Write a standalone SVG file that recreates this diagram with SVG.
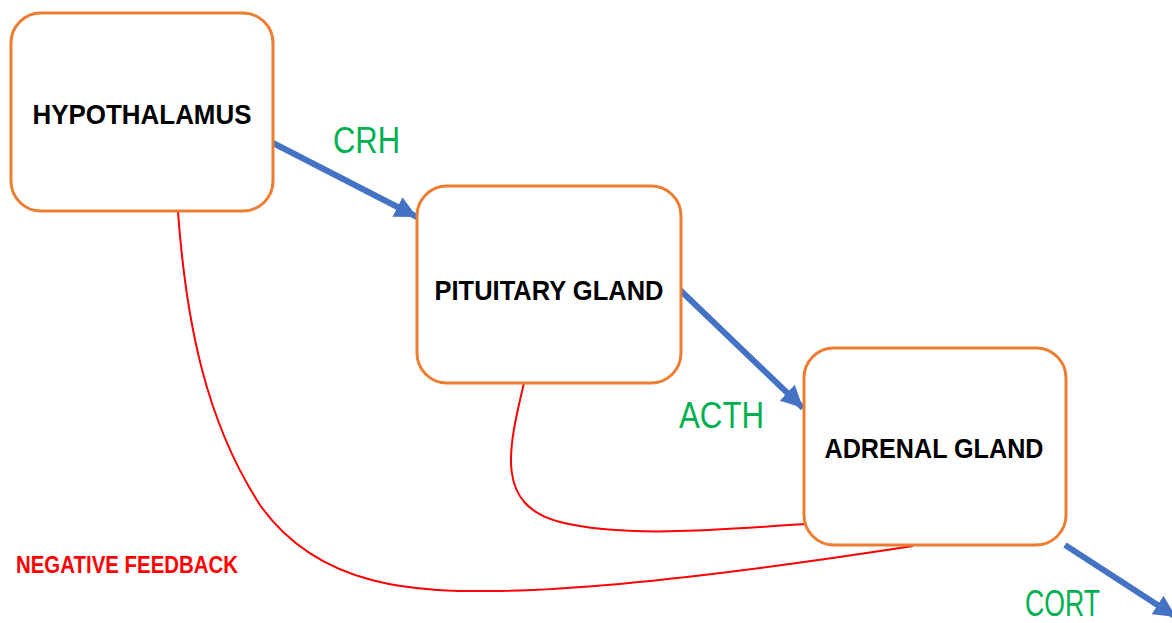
<svg xmlns="http://www.w3.org/2000/svg" width="1172" height="623" viewBox="0 0 1172 623">
<style>
.box{fill:#fff;stroke:#ED7D31;stroke-width:3}
.lbl{font-family:"Liberation Sans",Arial,sans-serif;font-weight:bold;font-size:28px;fill:#000;text-anchor:middle}
.hor{font-family:"Liberation Sans",Arial,sans-serif;font-size:36px;fill:#00B050}
.fb{fill:none;stroke:#FF0000;stroke-width:2}
.ar{fill:none;stroke:#4472C4;stroke-width:6}
</style>
<defs>
<marker id="ah" markerUnits="userSpaceOnUse" markerWidth="24" markerHeight="22" refX="22" refY="11" orient="auto">
<path d="M0,0 L22,11 L0,22 Z" fill="#4472C4"/>
</marker>
</defs>
<g id="connectors">
<path class="fb" d="M178,212 C186,320 205,420 260,505 C320,590 420,592 500,591 C620,589 790,565 913,546"/>
<path class="fb" d="M524,383 C508,450 495,505 560,522 C622,538 720,530 805,524"/>
<line class="ar" x1="273" y1="143" x2="417" y2="217" marker-end="url(#ah)"/>
<line class="ar" x1="680" y1="290" x2="803" y2="408" marker-end="url(#ah)"/>
<line class="ar" x1="1065" y1="545" x2="1176" y2="617" marker-end="url(#ah)"/>
</g>
<g id="hypothalamus">
<rect class="box" x="11" y="13" width="262" height="198" rx="30"/>
<text class="lbl" x="142" y="124" textLength="219" lengthAdjust="spacingAndGlyphs">HYPOTHALAMUS</text>
</g>
<g id="pituitary">
<rect class="box" x="417" y="186" width="264" height="197" rx="30"/>
<text class="lbl" x="549" y="300" textLength="229" lengthAdjust="spacingAndGlyphs">PITUITARY GLAND</text>
</g>
<g id="adrenal">
<rect class="box" x="804" y="348" width="262" height="197" rx="30"/>
<text class="lbl" x="934" y="458" textLength="219" lengthAdjust="spacingAndGlyphs">ADRENAL GLAND</text>
</g>
<g id="labels">
<text class="hor" x="333" y="153" textLength="67" lengthAdjust="spacingAndGlyphs">CRH</text>
<text class="hor" x="679" y="428" textLength="85" lengthAdjust="spacingAndGlyphs">ACTH</text>
<text class="hor" x="1025" y="616" font-size="31" textLength="75" lengthAdjust="spacingAndGlyphs">CORT</text>
<text x="16" y="573" font-family="'Liberation Sans',Arial,sans-serif" font-weight="bold" font-size="24" fill="#FF0000" textLength="222" lengthAdjust="spacingAndGlyphs">NEGATIVE FEEDBACK</text>
</g>
</svg>
